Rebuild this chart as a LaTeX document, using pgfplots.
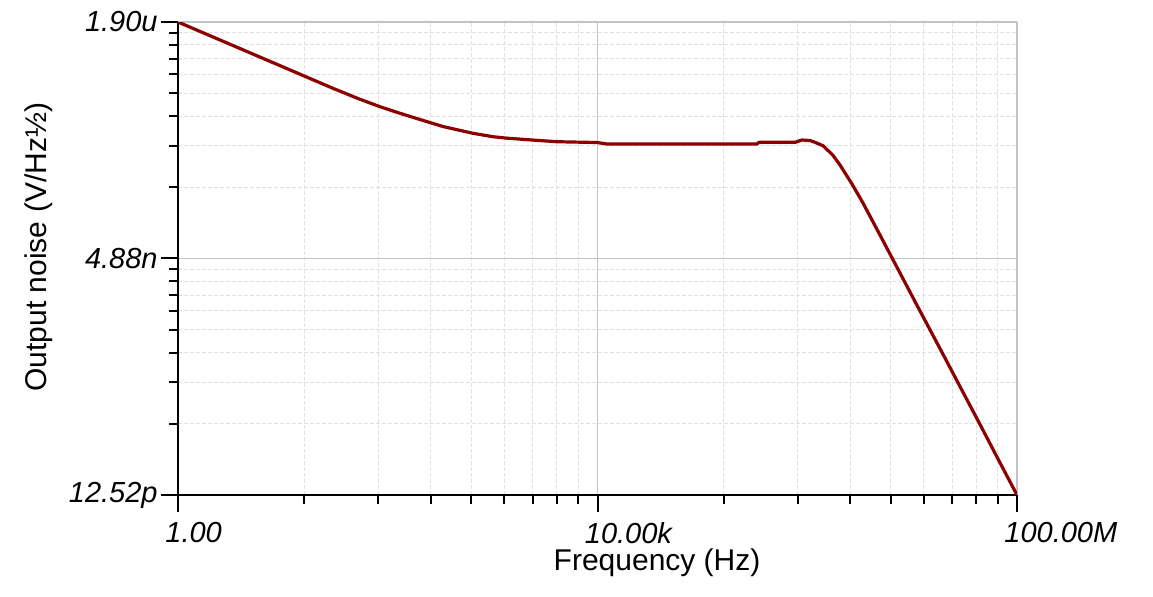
\documentclass[border=0pt]{standalone}
\usepackage{fontspec}
\setmainfont{Liberation Sans}
\usepackage{pgfplots}
\pgfplotsset{compat=1.18}

\definecolor{trace}{RGB}{140,0,0}
\definecolor{majgrid}{RGB}{195,195,195}
\definecolor{mingrid}{RGB}{225,225,225}

\begin{document}
\begin{tikzpicture}
\useasboundingbox (0,0) rectangle (576.5pt,298pt);
\begin{axis}[
  at={(89pt,50.5pt)}, anchor=south west,
  scale only axis, width=419.5pt, height=236.5pt,
  xmode=log, ymode=log,
  xmin=1, xmax=1e8, ymin=1.252e-11, ymax=1.9e-6,
  axis x line*=bottom, axis y line*=left,
  axis line style={-, black, line width=1.2pt},
  xtick={1,1e4,1e8},
  xticklabels={1.00,10.00k,100.00M},
  minor xtick={16,81,256,625,1296,2401,4096,6561,
    160000,810000,2560000,6250000,12960000,24010000,40960000,65610000},
  ytick={1.252e-11,4.88e-9,1.9e-6},
  yticklabels={12.52p,4.88n,1.90u},
  minor ytick={7.541e-11,2.156e-10,4.542e-10,8.098e-10,1.2985e-9,1.936e-9,2.736e-9,3.713e-9,
    2.939e-8,8.403e-8,1.770e-7,3.157e-7,5.062e-7,7.546e-7,1.0665e-6,1.4467e-6},
  tick align=outside,
  major tick length=8.5pt, minor tick length=4.5pt,
  tick style={black, line width=1pt},
  grid=both,
  major grid style={majgrid, line width=0.8pt, solid},
  minor grid style={mingrid, line width=0.5pt, dash pattern=on 2pt off 1pt},
  ticklabel style={font=\fontsize{14.5}{17}\selectfont\itshape},
  xticklabel style={anchor=north west, inner sep=0pt, xshift=-6.5pt, yshift=-5pt},
  yticklabel style={anchor=east, inner sep=0pt, xshift=-1.5pt},
  label style={font=\fontsize{15}{18}\selectfont},
  xlabel={Frequency (Hz)},
  xlabel style={at={(axis description cs:0.571,-0.1438)}, anchor=center},
  ylabel={Output noise (V/Hz½)},
  ylabel style={at={(axis description cs:-0.1657,0.524)}, anchor=center, rotate=0},
]
\addplot[trace, line width=1.6pt, line join=round] coordinates {
  (1,1.90e-6)
  (30.06,3.568e-7)
  (52.04,2.759e-7)
  (84.38,2.244e-7)
  (130.9,1.900e-7)
  (203.0,1.625e-7)
  (336.4,1.361e-7)
  (649.9,1.147e-7)
  (1008,1.053e-7)
  (1312,1.019e-7)
  (2373,9.687e-8)
  (4110,9.28e-8)
  (9890,9.094e-8)
  (12320,8.757e-8)
  (331700,8.757e-8)
  (346700,9.14e-8)
  (764200,9.14e-8)
  (891300,9.687e-8)
  (1.062e6,9.567e-8)
  (1.186e6,9.14e-8)
  (1.413e6,8.39e-8)
  (1.750e6,6.634e-8)
  (2.053e6,5.157e-8)
  (2.672e6,3.192e-8)
  (3.401e6,1.977e-8)
  (4.626e6,1.016e-8)
  (6.152e6,5.463e-9)
  (7.664e6,3.383e-9)
  (1.113e7,1.498e-9)
  (1.927e7,4.577e-10)
  (2.737e7,2.127e-10)
  (4.439e7,7.43e-11)
  (6.447e7,3.264e-11)
  (1e8,1.252e-11)
};
\end{axis}
\end{tikzpicture}
\end{document}
